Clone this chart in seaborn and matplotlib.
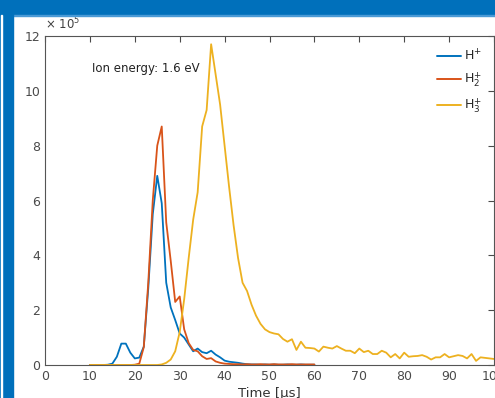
import numpy as np
import pandas as pd
import matplotlib
matplotlib.use("Agg")
import matplotlib.pyplot as plt
import seaborn as sns
from matplotlib.patches import Rectangle

# ---- data (flux in units of 1e5 c/s) ----
t_low = list(range(10, 61))
h1 = [0, 0, 0, 0, 0.01, 0.05, 0.3, 0.78, 0.78, 0.45,
      0.24, 0.27, 0.67, 2.8, 5.5, 6.9, 5.9, 3.0, 2.1, 1.64,
      1.15, 1.0, 0.75, 0.5, 0.6, 0.47, 0.43, 0.52, 0.38, 0.28,
      0.16, 0.12, 0.1, 0.08, 0.05, 0.03, 0.02, 0.02, 0.01, 0.02,
      0.01, 0.02, 0.01, 0.01, 0.02, 0.01, 0.01, 0.02, 0.01, 0.01, 0.01]
h2 = [0, 0, 0, 0, 0, 0, 0, 0, 0, 0,
      0.01, 0.05, 0.65, 3.0, 6.0, 8.0, 8.7, 5.2, 3.8, 2.3,
      2.5, 1.3, 0.8, 0.55, 0.5, 0.32, 0.22, 0.25, 0.13, 0.08,
      0.05, 0.04, 0.03, 0.03, 0.02, 0.03, 0.02, 0.02, 0.03, 0.02,
      0.02, 0.03, 0.02, 0.02, 0.02, 0.03, 0.02, 0.02, 0.02, 0.02, 0.02]
t_h3 = list(range(10, 101))
h3 = [0, 0, 0, 0, 0, 0, 0, 0, 0, 0,
      0, 0, 0, 0, 0, 0, 0.02, 0.08, 0.2, 0.5,
      1.2, 2.4, 3.9, 5.3, 6.3, 8.7, 9.3, 11.7, 10.6, 9.5,
      8.0, 6.5, 5.1, 3.9, 3.0, 2.7, 2.2, 1.8, 1.5, 1.3,
      1.2, 1.15, 1.12, 0.95, 0.85, 0.94, 0.55, 0.85, 0.63, 0.62,
      0.6, 0.49, 0.67, 0.63, 0.6, 0.69, 0.6, 0.52, 0.52, 0.43,
      0.6, 0.47, 0.52, 0.4, 0.4, 0.52, 0.45, 0.28, 0.4, 0.24,
      0.45, 0.3, 0.32, 0.33, 0.36, 0.3, 0.2, 0.28, 0.28, 0.4,
      0.28, 0.32, 0.36, 0.33, 0.24, 0.4, 0.15, 0.28, 0.26, 0.24, 0.22]
labels = ["H$^{+}$", "H$_{2}^{+}$", "H$_{3}^{+}$"]
colors = ["#0072BD", "#D95319", "#EDB120"]
x_ticks = list(range(0, 101, 10))
y_ticks = list(range(0, 13, 2))

df = pd.concat([
    pd.DataFrame({"time": t_low, "flux": h1, "ion": labels[0]}),
    pd.DataFrame({"time": t_low, "flux": h2, "ion": labels[1]}),
    pd.DataFrame({"time": t_h3, "flux": h3, "ion": labels[2]}),
], ignore_index=True)

sns.set_style("white")
FONT = ["Liberation Sans Narrow", "DejaVu Sans"]
plt.rcParams["font.family"] = FONT
plt.rcParams["mathtext.fontset"] = "custom"
plt.rcParams["mathtext.rm"] = "Liberation Sans Narrow"
plt.rcParams["mathtext.it"] = "Liberation Sans Narrow"

fig = plt.figure(figsize=(4.95, 3.98), dpi=100)
ax = fig.add_axes([45 / 495, 33 / 398, 449 / 495, 329 / 398])

sns.lineplot(data=df, x="time", y="flux", hue="ion", palette=colors,
             linewidth=1.3, ax=ax, legend=True)

ax.set_xlim(0, 100)
ax.set_ylim(0, 12)
ax.set_xticks(x_ticks)
ax.set_yticks(y_ticks)
ax.tick_params(direction="in", length=4, width=0.8, colors="#4a4a4a",
               labelsize=9, top=True, right=True, labeltop=False, labelright=False)
for s in ax.spines.values():
    s.set_color("#555555")
    s.set_linewidth(0.8)
ax.set_xlabel("Time [μs]", fontsize=9.5, color="#333333", labelpad=3)
ax.set_ylabel("Ion flux [c/s]", fontsize=9.5, color="#333333", labelpad=9)
ax.text(0.0, 1.012, "× 10$^{5}$", transform=ax.transAxes, fontsize=8.5,
        color="#404040", ha="left", va="bottom")
ax.text(10.5, 10.8, "Ion energy: 1.6 eV", fontsize=8.5, color="#222222",
        ha="left", va="center")

leg = ax.legend(loc="upper right", frameon=False, fontsize=9, handlelength=1.9,
                handletextpad=0.2, labelspacing=0.55, borderaxespad=0.6)
for line in leg.get_lines():
    line.set_linewidth(1.4)

# blue frame
blue = "#0070BB"
fig.patches.append(Rectangle((0, 1 - 15 / 398), 1, 15 / 398, transform=fig.transFigure,
                             color=blue, zorder=10))
fig.patches.append(Rectangle((0, 1 - 15.5 / 398), 1, 1 / 398, transform=fig.transFigure,
                             color="#4a9ad6", zorder=10))
fig.patches.append(Rectangle((0, 0), 1.4 / 495, 1, transform=fig.transFigure,
                             color=blue, zorder=10))
fig.patches.append(Rectangle((2.4 / 495, 0), 10.4 / 495, 1, transform=fig.transFigure,
                             color=blue, zorder=10))
fig.patches.append(Rectangle((1.4 / 495, 0), 1.0 / 495, 1 - 15 / 398, transform=fig.transFigure,
                             color="white", zorder=11))

fig.savefig("out.png", dpi=100)
